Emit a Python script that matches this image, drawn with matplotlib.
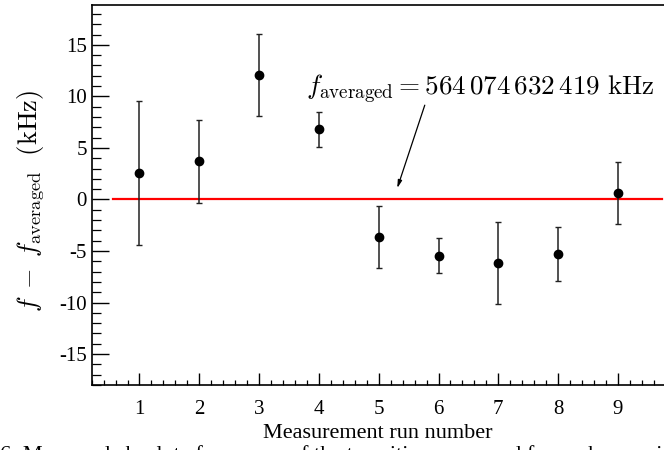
import numpy as np
import matplotlib
matplotlib.use("Agg")
import matplotlib.pyplot as plt
from matplotlib.ticker import MultipleLocator

plt.rcParams['mathtext.fontset'] = 'cm'
plt.rcParams['font.family'] = ['Liberation Serif', 'DejaVu Serif']
plt.rcParams['axes.unicode_minus'] = False

# Deviation of each run from the averaged frequency (kHz)
runs = [1, 2, 3, 4, 5, 6, 7, 8, 9]
deviation = [2.6, 3.7, 12.1, 6.8, -3.65, -5.45, -6.15, -5.3, 0.65]
uncertainty = [7.0, 4.0, 4.0, 1.7, 3.0, 1.7, 4.0, 2.6, 3.0]
avg_label = r'$f_{\rm averaged} = 564\,074\,632\,419\ {\rm kHz}$'

fig = plt.figure(figsize=(6.64, 4.5), dpi=100)
ax = fig.add_axes([0.138, 0.1444, 0.862, 0.8452])

# reference line at zero
ax.plot([0.55, 9.73], [0, 0], color='#ff0000', lw=1.6, zorder=1)

ax.errorbar(runs, deviation, yerr=uncertainty, fmt='o', color='black',
            ecolor='#222222', elinewidth=1.1, capsize=2.2, capthick=1.0,
            markersize=6, zorder=3)

ax.text(3.78, 10.7, avg_label, fontsize=19.5, ha='left', va='center')
ax.annotate('', xy=(5.31, 1.1), xytext=(5.77, 9.15),
            arrowprops=dict(arrowstyle='-|>,head_length=0.45,head_width=0.12',
                            color='black', lw=0.9, shrinkA=0, shrinkB=0))

ax.set_xlim(0.2, 9.77)
ax.set_ylim(-18.0, 18.9)
ax.xaxis.set_major_locator(MultipleLocator(1))
ax.xaxis.set_minor_locator(MultipleLocator(0.2))
ax.yaxis.set_major_locator(MultipleLocator(5))
ax.yaxis.set_minor_locator(MultipleLocator(1))
ax.set_xticks(runs)

ax.tick_params(axis='y', which='major', direction='in', length=12, width=1.0,
               labelsize=15, pad=3.5)
ax.tick_params(axis='y', which='minor', direction='in', length=6.5, width=0.9)
ax.tick_params(axis='x', which='major', direction='in', length=9, width=1.0,
               labelsize=15, pad=11)
ax.tick_params(axis='x', which='minor', direction='in', length=3.5, width=0.9)
ax.spines['right'].set_visible(False)
for s in ['left', 'bottom', 'top']:
    ax.spines[s].set_linewidth(1.2)

ax.set_xlabel('Measurement run number', fontsize=16, labelpad=3.5)
ax.set_ylabel(r'$f\;-\;f_{\rm averaged}\ \ ({\rm kHz})$', fontsize=19, labelpad=0)
ax.yaxis.set_label_coords(-0.079, 0.485)

# caption line running off the bottom edge
fig.text(0.0, 0.011, '6: Measured absolute frequency of the transition measured for each run with the averaged absolute',
         fontsize=16, ha='left', va='top')

fig.savefig('out.png', dpi=100)
